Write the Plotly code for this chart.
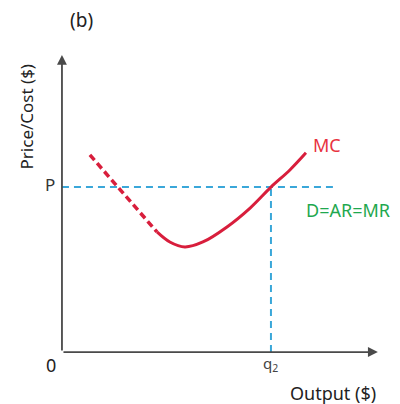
import plotly.graph_objects as go

# Data (x: output units, y: price/cost units)
mc_dashed_x = [0.87, 2.96]
mc_dashed_y = [6.68, 4.07]
mc_solid_x = [2.96, 3.36, 3.83, 4.39, 5.14, 5.86, 6.51, 7.10, 7.60]
mc_solid_y = [4.07, 3.73, 3.56, 3.73, 4.24, 4.88, 5.59, 6.17, 6.75]
price_level = 5.59
q2 = 6.51
price_line_end = 8.44
x_axis_end = 9.84
y_axis_end = 10.07

red = "#d81e3c"
blue = "#3aa7d9"
green = "#1fa84f"
axis_col = "#4a4a4a"
font_fam = "Noto Sans, Open Sans, sans-serif"

fig = go.Figure()

fig.add_trace(go.Scatter(x=[0, price_line_end], y=[price_level, price_level], mode="lines",
                         line=dict(color=blue, width=2, dash="7px,5px"), hoverinfo="skip"))
fig.add_trace(go.Scatter(x=[q2, q2], y=[0, price_level], mode="lines",
                         line=dict(color=blue, width=2, dash="7px,5px"), hoverinfo="skip"))
fig.add_trace(go.Scatter(x=mc_dashed_x, y=mc_dashed_y, mode="lines",
                         line=dict(color=red, width=3.5, dash="7px,4px"), hoverinfo="skip"))
fig.add_trace(go.Scatter(x=mc_solid_x, y=mc_solid_y, mode="lines",
                         line=dict(color=red, width=3, shape="spline", smoothing=1.0), hoverinfo="skip"))

annotations = [
    dict(x=x_axis_end, y=0, ax=0, ay=0, xref="x", yref="y", axref="x", ayref="y", text="",
         showarrow=True, arrowhead=2, arrowsize=1.1, arrowwidth=1.8, arrowcolor=axis_col),
    dict(x=0, y=y_axis_end, ax=0, ay=0, xref="x", yref="y", axref="x", ayref="y", text="",
         showarrow=True, arrowhead=2, arrowsize=1.1, arrowwidth=1.8, arrowcolor=axis_col),
    dict(x=0.6, y=11.25, text="(b)", showarrow=False, font=dict(size=19, color="#222", family=font_fam)),
    dict(x=-1.12, y=7.95, text="Price/Cost ($)", textangle=-90, showarrow=False,
         font=dict(size=17, color="#222", family=font_fam)),
    dict(x=-0.38, y=price_level + 0.1, text="P", showarrow=False, font=dict(size=17, color="#333", family=font_fam)),
    dict(x=-0.33, y=-0.45, text="0", showarrow=False, font=dict(size=18, color="#222", family=font_fam)),
    dict(x=q2, y=-0.42, text="q<sub>2</sub>", showarrow=False, font=dict(size=15, color="#444", family=font_fam)),
    dict(x=8.44, y=-1.38, text="Output ($)", showarrow=False, font=dict(size=18, color="#222", family=font_fam)),
    dict(x=8.25, y=7.0, text="MC", showarrow=False, font=dict(size=18, color="#e8323f", family=font_fam)),
    dict(x=8.9, y=4.8, text="D=AR=MR", showarrow=False, font=dict(size=18, color=green, family=font_fam)),
]

fig.update_layout(
    width=400, height=404, autosize=False,
    margin=dict(l=0, r=0, t=0, b=0),
    paper_bgcolor="white", plot_bgcolor="white",
    showlegend=False,
    xaxis=dict(range=[-1.93, 10.53], visible=False, fixedrange=True),
    yaxis=dict(range=[-1.76, 11.93], visible=False, fixedrange=True),
    annotations=annotations,
)

fig.write_html("out.html", config={"displayModeBar": False},
               post_script="document.body.style.margin='0';document.body.style.overflow='hidden';")
